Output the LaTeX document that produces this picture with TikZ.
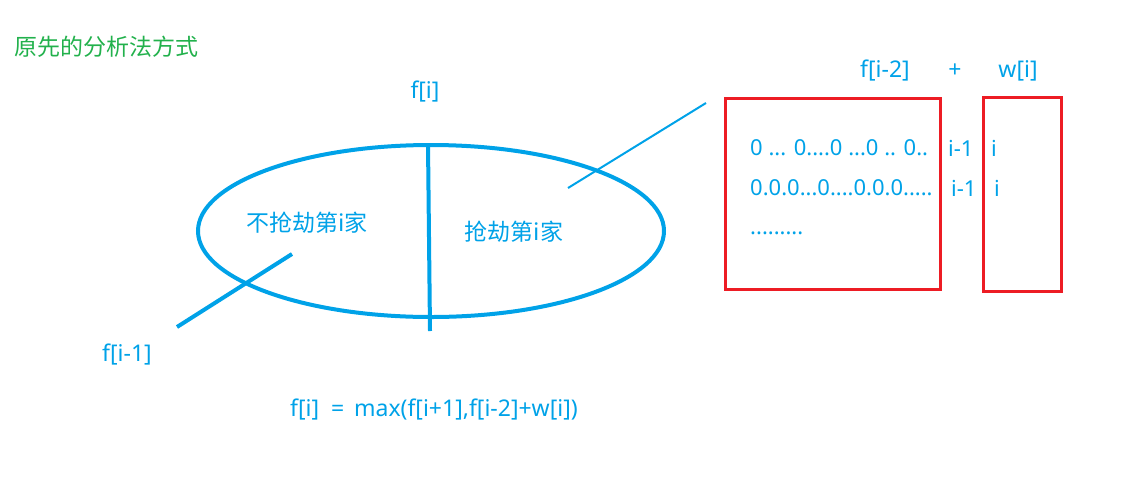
\documentclass[tikz,border=0pt]{standalone}
\usepackage{fontspec}
\setmainfont{Noto Sans}
\newfontfamily\cjk{Noto Sans CJK SC}
\usetikzlibrary{shapes.geometric}
\definecolor{pblue}{RGB}{0,162,232}
\definecolor{pred}{RGB}{237,28,36}
\definecolor{pgreen}{RGB}{34,177,76}
\tikzset{
  txt/.style={font=\fontsize{23}{26}\selectfont, text=pblue, inner sep=0pt},
  rowtxt/.style={font=\fontsize{22}{25}\selectfont, text=pblue, inner sep=0pt, anchor=west},
  ctxt/.style={font=\cjk\fontsize{23}{26}\selectfont, text=pblue, inner sep=0pt},
  thickline/.style={draw=pblue, line width=4pt},
  thinline/.style={draw=pblue, line width=2pt},
  redbox/.style={draw=pred, line width=3pt, inner sep=0pt, anchor=north west}
}
\begin{document}
\begin{tikzpicture}[x=1pt,y=-1pt]
\useasboundingbox (0,0) rectangle (1132,488);
% title
\node[ctxt, text=pgreen, anchor=west] (title) at (14,47) {原先的分析法方式};
% ellipse
\node[ellipse, thickline, minimum width=466pt, minimum height=172pt, inner sep=0pt] (ell) at (431,231) {};
\coordinate (vtop) at (428,144);
\coordinate (vbot) at (430,331);
\draw[thickline] (vtop) -- (vbot);
\node[txt] (fi) at (425,92) {f[i]};
\node[ctxt] (nrob) at (307,223) {不抢劫第i家};
\node[ctxt] (rob) at (514,232) {抢劫第i家};
% left pointer
\coordinate (la) at (292,254);
\coordinate (lb) at (177,327);
\draw[thickline] (la) -- (lb);
\node[txt] (fim1) at (127,355) {f[i-1]};
% right pointer
\coordinate (ra) at (568,188);
\coordinate (rb) at (706,103);
\draw[thinline] (ra) -- (rb);
% formula
\node[txt, anchor=west] (formula) at (290,410) {f[i] \ = \,max(f[i+1],f[i-2]+w[i])};
% boxes
\node[redbox, minimum width=215pt, minimum height=191pt] (box1) at (724,97) {};
\node[redbox, minimum width=78pt, minimum height=194pt] (box2) at (982,96) {};
\node[txt] (fi2) at (885,71) {f[i-2]};
\node[txt] (plus) at (955,71) {+};
\node[txt] (wi) at (1018,71) {w[i]};
% rows
\node[rowtxt] (r1) at (750,148) {0 ... 0....0 ...0 .. 0..};
\node[rowtxt] (r1b) at (948,148) {i-1};
\node[rowtxt] (r1c) at (991,148) {i};
\node[rowtxt] (r2) at (750,188) {0.0.0...0....0.0.0.....};
\node[rowtxt] (r2b) at (951,188) {i-1};
\node[rowtxt] (r2c) at (994,188) {i};
\node[rowtxt, anchor=base west] (r3) at (750,234) {.........};
\end{tikzpicture}
\end{document}
